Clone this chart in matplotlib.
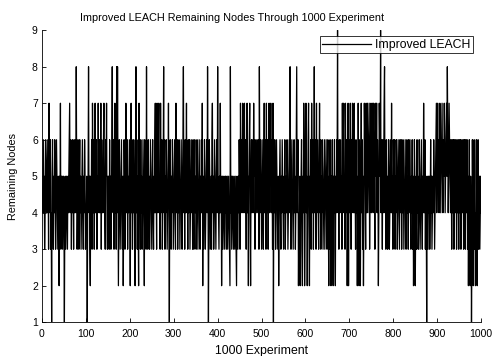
#!/usr/bin/env python3
"""
Improved LEACH: remaining nodes after each of 1000 experiments.
Values were read off the original MATLAB figure (estimated, 100 per row).
"""

import numpy as np
import matplotlib
matplotlib.use("Agg")
import matplotlib.pyplot as plt

# remaining nodes per experiment, one string of 100 digits per block of 100 runs
block_000 = "4564534654" "5645375463" "4156435465" "3465435425" "4735453454" \
            "1453454354" "5674653564" "5364564853" "4653564534" "5643546534"
block_100 = "4514584532" "5463754635" "7456354754" "6457364546" "7543657435" \
            "4536453468" "5463574638" "4852465345" "6435246534" "7546354564"
block_200 = "2574635465" "3258463542" "7453645346" "5426453845" "3645346543" \
            "5643546745" "3754674537" "4563458463" "5465345741" "5643546534"
block_300 = "5643754635" "4653456435" "6845364574" "5364563456" "4536435645" \
            "3465345643" "5464725346" "5345648514" "6534536745" "3465435648"
block_400 = "5435474524" "5345435453" "4534543284" "5345435435" "4325435465" \
            "3756457465" "7465367452" "5674256456" "4756346546" "5463854653"
block_500 = "4563574653" "7456357465" "7465371546" "5346543524" "5643546543" \
            "5463454653" "4564853465" "4356453468" "4562435245" "6325476245"
block_600 = "7452467425" "4637546358" "4653745643" "5746354653" "4563456435" \
            "6425364254" "6325463254" "6594536456" "4537467453" "7465247256"
block_700 = "4753647546" "7453645247" "5264257463" "5247653746" "7456735674" \
            "6754765376" "5746524765" "9465364578" "4536453465" "3465474536"
block_800 = "5463546534" "6543654635" "4653456435" "6453645643" "5463524652" \
            "4536453465" "3456435475" "4635415435" "4534645345" "4653456745"
block_900 = "7564576456" "7546576456" "7586457654" "6536456356" "4563546536" \
            "4563465463" "5643654635" "2463254136" "4256342564" "2563453454"

blocks = [block_000, block_100, block_200, block_300, block_400,
          block_500, block_600, block_700, block_800, block_900]

x_ticks = list(range(0, 1001, 100))
y_ticks = list(range(1, 10))


def build_series():
    """Join the digit blocks into one array of remaining-node counts."""
    digits = "".join(blocks)
    return np.array([int(d) for d in digits])


def main():
    plt.rcParams['font.family'] = ['Liberation Sans', 'DejaVu Sans']
    plt.rcParams['font.size'] = 7.5

    nodes = build_series()
    runs = np.arange(1, len(nodes) + 1)

    fig = plt.figure(figsize=(4.94, 3.56), dpi=100)
    ax = fig.add_axes([0.085, 0.095, 0.889, 0.82])

    ax.plot(runs, nodes, color='black', linewidth=0.9, label='Improved LEACH')

    ax.set_xlim(0, 1000)
    ax.set_ylim(1, 9)
    ax.set_xticks(x_ticks)
    ax.set_yticks(y_ticks)
    ax.tick_params(direction='in', length=3, width=0.6)
    ax.tick_params(axis='x', pad=5)
    ax.tick_params(axis='y', pad=3)

    # MATLAB-ish look: only left and bottom axis lines survive in the scan
    ax.spines['top'].set_visible(False)
    ax.spines['right'].set_visible(False)
    for side in ('left', 'bottom'):
        ax.spines[side].set_linewidth(0.6)

    # title sits a bit left of the axes centre in the original
    ax.set_title('Improved LEACH Remaining Nodes Through 1000 Experiment',
                 fontsize=7.8, pad=7, x=0.433)
    ax.set_xlabel('1000 Experiment', fontsize=8.8, labelpad=4)
    ax.set_ylabel('Remaining Nodes', fontsize=7.8, labelpad=10)

    leg = ax.legend(loc='upper right', bbox_to_anchor=(0.982, 0.979),
                    borderaxespad=0, fancybox=False, fontsize=8.8,
                    handlelength=4.0, borderpad=0.2, handletextpad=0.35)
    leg.get_frame().set_edgecolor('black')
    leg.get_frame().set_linewidth(0.7)

    fig.savefig('out.png', dpi=100)


if __name__ == "__main__":
    main()
